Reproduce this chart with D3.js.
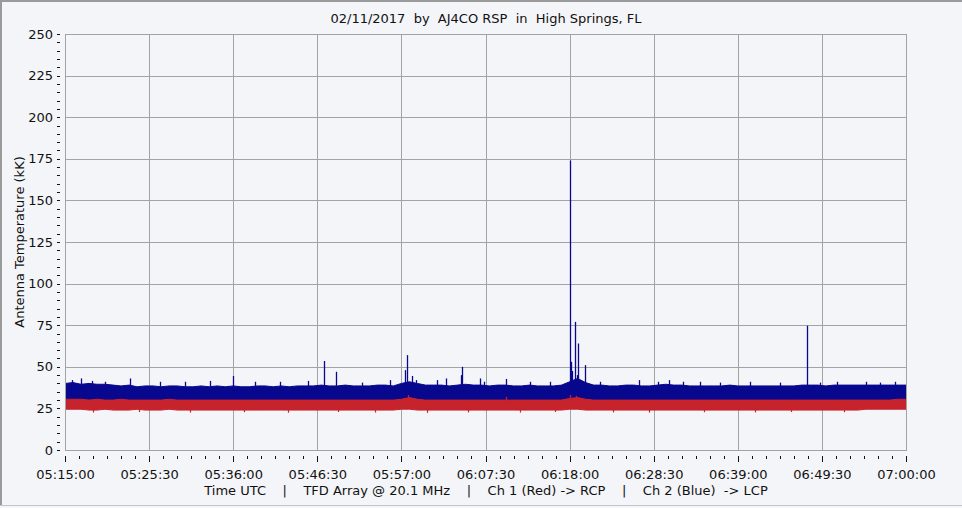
<!DOCTYPE html>
<html><head><meta charset="utf-8">
<script src="https://cdn.jsdelivr.net/npm/d3@7"></script>
<style>
html,body{margin:0;padding:0;background:#f4f5f8;}
svg{display:block;}
text{font-family:"DejaVu Sans",Verdana,sans-serif;fill:#111;}
</style></head>
<body>
<script>
// ---- data (minutes after 05:15:00 UTC, antenna temperature in kK) ----
const startTime = "2017-02-11T05:15:00Z";
const endTime = "2017-02-11T07:00:00Z";
const titleText = "02/11/2017  by  AJ4CO RSP  in  High Springs, FL";
const captionText = "Time UTC    |    TFD Array @ 20.1 MHz    |    Ch 1 (Red) -> RCP    |    Ch 2 (Blue)  -> LCP";
const yLabel = "Antenna Temperature (kK)";
const yTicks = [0, 25, 50, 75, 100, 125, 150, 175, 200, 225, 250];
const xTickMinutes = [0, 10.5, 21, 31.5, 42, 52.5, 63, 73.5, 84, 94.5, 105];

const sampleMinutes = [0,1,2,3,4,5,6,7,8,9,10,11,12,13,14,15,16,17,18,19,20,21,22,23,24,25,26,27,28,29,30,31,32,33,34,35,36,37,38,39,40,41,42,43,44,45,46,47,48,49,50,51,52,53,54,55,56,57,58,59,60,61,62,63,64,65,66,67,68,69,70,71,72,73,74,75,76,77,78,79,80,81,82,83,84,85,86,87,88,89,90,91,92,93,94,95,96,97,98,99,100,101,102,103,104,105];
// Ch 2 (Blue, LCP) upper / lower envelope
const blueHi = [40,40.5,39.5,40,39.5,39.5,39,38.5,39,38, 38.5,38.5,38,38.5,38.5,38,38,38.5,38,38.5, 38,38.5,38,38,38.5,38.5,38,38.5,38,38.5, 38.5,38.5,39,38.5,38.5,39,38.5,38.5,38.5,39, 39,38.5,40,41,40,39,39,39,38.5,39, 39.5,39,39,38.5,39,39,38.5,38.5,39,38.5, 38.5,38.5,39,41,43,40.5,39,39,38.5,38.5, 39,39,38.5,38.5,39,39.5,39,39,38.5,38.5, 38.5,38.5,38.5,39,38.5,38.5,38.5,38.5,38.5,38.5, 38.5,38.5,39,39,39,38.5,39,39,39,39, 39,39,39,39,39,39];
const blueLo = [29.5,29.5,29.5,29.5,29.5,29.5,29.5,29.5,29.5,29.5, 29.5,29.5,29.5,29.5,29.5,29.5,29.5,29.5,29.5,29.5, 29.5,29.5,29.5,29.5,29.5,29.5,29.5,29.5,29.5,29.5, 29.5,29.5,29.5,29.5,29.5,29.5,29.5,29.5,29.5,29.5, 29.5,29.5,30,30.5,30,29.5,29.5,29.5,29.5,29.5, 29.5,29.5,29.5,29.5,29.5,29.5,29.5,29.5,29.5,29.5, 29.5,29.5,29.5,30.5,31,30,29.5,29.5,29.5,29.5, 29.5,29.5,29.5,29.5,29.5,29.5,29.5,29.5,29.5,29.5, 29.5,29.5,29.5,29.5,29.5,29.5,29.5,29.5,29.5,29.5, 29.5,29.5,29.5,29.5,29.5,29.5,29.5,29.5,29.5,29.5, 29.5,29.5,29.5,29.5,29.5,29.5];
// Ch 1 (Red, RCP) upper / lower envelope
const redHi = [30.5,30.5,30.5,30,30.5,30,30,30.5,30,30, 30,30,30,30.5,30,30,30,30,30,30, 30,30,30,30,30,30,30,30,30,30, 30,30,30,30,30,30,30,30,30,30, 30,30,30.5,31.5,30.5,30,30,30,30,30, 30,30,30,30,30,30,30,30,30,30, 30,30,30,31,31.5,30.5,30,30,30,30, 30,30,30,30,30,30,30,30,30,30, 30,30,30,30,30,30,30,30,30,30, 30,30,30,30,30,30,30,30,30,30, 30,30,30,30,30.5,30.5];
const redLo = [24.5,24.5,24.5,24,24,24.5,24,24,24,24.5, 24,24,24,24.5,24,24,24,24,24,24, 24,24,24,24,24,24,24,24,24,24, 24,24,24,24,24,24,24,24,24,24, 24,24,24.5,24.5,24,24,24,24,24,24, 24,24,24,24,24,24,24,24,24,24, 24,24,24,24.5,24.5,24,24,24,24,24, 24,24,24,24,24,24,24,24,24,24, 24,24,24,24,24,24,24,24,24,24, 24,24,24,24,24,24,24,24,24,24, 24.5,24.5,24.5,24.5,24.5,24.5];
// blue spikes and upper-edge jags (minute, peak kK)
const blueSpikeMin = [0.87,2.0,3.37,4.99,8.12,11.86,14.98,18.1,20.98,23.72,26.84,30.34,32.34,33.83,37.08,40.58,42.45,42.76,43.32,43.82,46.45,47.57,49.44,49.56,51.81,52.31,55.06,58.06,60.55,62.99,63.17,63.36,63.71,63.92,64.11,64.96,66.8,71.66,74.03,75.4,77.15,79.28,81.78,85.52,89.27,92.68,94.26,96.38,100.0,101.76,103.64];
const blueSpikeVal = [42,43,41.5,41,43,41,41,41.5,44.5,41,41,41.5,53.5,47,40.5,42,48,57,44.5,42,42,43,45,50,43,41,42.7,41,41,174,53,47.5,77,45,64,51,41,42,41,42,41,41,40.5,41,40.5,74.7,40.5,41,41,40.5,41];
// red spikes (minute, peak kK)
const redSpikeMin = [42.8,55.06,63.0,63.8];
const redSpikeVal = [33,32,33,32.5];
// red lower-edge dips (minute, low kK)
const redDipMin = [3.5,9.2,15.6,22.4,27.9,34.1,38.7,45.2,50.3,56.8,61.2,68.4,72.9,79.8,86.1,90.7,97.3];
const redDipVal = [22.5,22.8,22.5,22.7,22.4,22.8,22.5,22.3,22.6,22.5,22.8,22.6,22.5,22.7,22.6,22.8,22.7];

// ---- layout ----
const W = 962, H = 508;
const L = 65, R = 906, T = 34, B = 450;
const svg = d3.select("body").append("svg").attr("width", W).attr("height", H);

svg.append("rect").attr("x",0).attr("y",0).attr("width",W).attr("height",H).attr("fill","#f4f5f8");
// outer frame
svg.append("path").attr("d",`M1,${H-2.5} L1,1 L${W},1`).attr("fill","none").attr("stroke","#9a9a9a").attr("stroke-width",2);
svg.append("line").attr("x1",0).attr("x2",W).attr("y1",H-2.5).attr("y2",H-2.5).attr("stroke","#c4c4c4").attr("stroke-width",1);

const t0 = new Date(startTime), t1 = new Date(endTime);
const toDate = m => new Date(t0.getTime() + m * 60000);
const x = d3.scaleUtc().domain([t0, t1]).range([L, R]);
const y = d3.scaleLinear().domain([0, 250]).range([B, T]);

// grid
const grid = svg.append("g").attr("stroke","#a3a3a3").attr("stroke-width",1).attr("shape-rendering","crispEdges");
grid.selectAll("line.h").data(yTicks).join("line").attr("class","h")
  .attr("x1",L).attr("x2",R).attr("y1",d=>Math.round(y(d))+0.5).attr("y2",d=>Math.round(y(d))+0.5);
grid.selectAll("line.v").data(xTickMinutes).join("line").attr("class","v")
  .attr("y1",T).attr("y2",B).attr("x1",d=>Math.round(x(toDate(d)))+0.5).attr("x2",d=>Math.round(x(toDate(d)))+0.5);

// data
svg.append("clipPath").attr("id","pc").append("rect").attr("x",L).attr("y",T).attr("width",R-L).attr("height",B-T);
const plot = svg.append("g").attr("clip-path","url(#pc)");
const blueCol = "#08088f", redCol = "#c6232c";

const bandBlue = d3.area().x((d,i)=>x(toDate(sampleMinutes[i]))).y0((d,i)=>y(blueLo[i])).y1((d,i)=>y(blueHi[i]));
const bandRed = d3.area().x((d,i)=>x(toDate(sampleMinutes[i]))).y0((d,i)=>y(redLo[i])).y1((d,i)=>y(redHi[i]));

plot.append("path").datum(sampleMinutes).attr("d",bandBlue).attr("fill",blueCol).attr("stroke",blueCol).attr("stroke-width",1);
plot.selectAll("line.bs").data(blueSpikeMin).join("line").attr("class","bs")
  .attr("x1",d=>Math.round(x(toDate(d)))+0.5).attr("x2",d=>Math.round(x(toDate(d)))+0.5)
  .attr("y1",y(35)).attr("y2",(d,i)=>y(blueSpikeVal[i]))
  .attr("stroke",blueCol).attr("stroke-width",1.3);
plot.append("path").datum(sampleMinutes).attr("d",bandRed).attr("fill",redCol).attr("stroke",redCol).attr("stroke-width",1);
plot.selectAll("line.rs").data(redSpikeMin).join("line").attr("class","rs")
  .attr("x1",d=>Math.round(x(toDate(d)))+0.5).attr("x2",d=>Math.round(x(toDate(d)))+0.5)
  .attr("y1",y(27)).attr("y2",(d,i)=>y(redSpikeVal[i]))
  .attr("stroke",redCol).attr("stroke-width",1.2);
plot.selectAll("line.rd").data(redDipMin).join("line").attr("class","rd")
  .attr("x1",d=>Math.round(x(toDate(d)))+0.5).attr("x2",d=>Math.round(x(toDate(d)))+0.5)
  .attr("y1",y(26)).attr("y2",(d,i)=>y(redDipVal[i]))
  .attr("stroke",redCol).attr("stroke-width",1.2);

// plot border
svg.append("rect").attr("x",L+0.5).attr("y",T+0.5).attr("width",R-L).attr("height",B-T)
  .attr("fill","none").attr("stroke","#a3a3a3").attr("stroke-width",1).attr("shape-rendering","crispEdges");

// x axis (major + minor ticks)
const fmt = d3.utcFormat("%H:%M:%S");
const minorMin = d3.range(0, 105.01, 1.75);
const xMinor = d3.axisBottom(x).tickValues(minorMin.map(toDate)).tickSize(3).tickFormat("");
const xMajor = d3.axisBottom(x).tickValues(xTickMinutes.map(toDate)).tickSize(6).tickPadding(8).tickFormat(fmt);
const gxm = svg.append("g").attr("transform",`translate(0,456)`).call(xMinor);
const gx = svg.append("g").attr("transform",`translate(0,456)`).call(xMajor);
[gxm,gx].forEach(g=>{g.select(".domain").remove(); g.selectAll(".tick line").attr("stroke","#111").attr("shape-rendering","crispEdges");});
gx.selectAll("text").attr("font-size",13).attr("font-family","DejaVu Sans").attr("fill","#111");

// y axis
const yMinorVals = d3.range(0, 250.01, 5);
const yMinor = d3.axisLeft(y).tickValues(yMinorVals).tickSize(3).tickFormat("");
const yMajor = d3.axisLeft(y).tickValues(yTicks).tickSize(0).tickPadding(7);
const gym = svg.append("g").attr("transform",`translate(60,0)`).call(yMinor);
const gy = svg.append("g").attr("transform",`translate(60,0)`).call(yMajor);
[gym,gy].forEach(g=>{g.select(".domain").remove(); g.selectAll(".tick line").attr("stroke","#111").attr("shape-rendering","crispEdges");});
gy.selectAll("text").attr("font-size",13).attr("font-family","DejaVu Sans").attr("fill","#111");

// titles
svg.append("text").attr("x",486).attr("y",23).attr("text-anchor","middle").attr("font-size",13)
  .style("white-space","pre").text(titleText);
svg.append("text").attr("x",486).attr("y",495).attr("text-anchor","middle").attr("font-size",13)
  .style("white-space","pre").style("opacity",0.999).text(captionText);
svg.append("text").attr("transform","translate(24,242) rotate(-90)").attr("text-anchor","middle").attr("font-size",13)
  .text(yLabel);
</script>
</body></html>
